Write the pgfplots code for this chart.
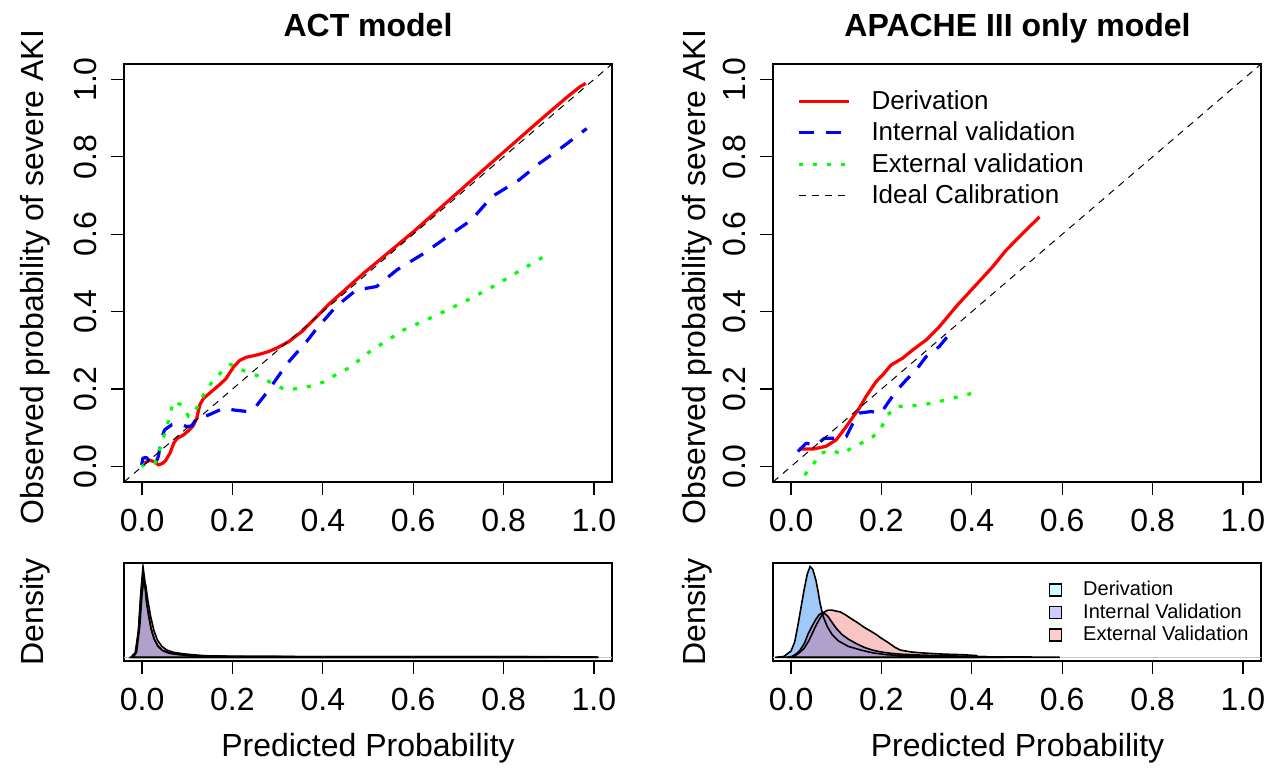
\documentclass[border=0pt]{standalone}
\usepackage{pgfplots}
\usepackage{pgfplotstable}
\pgfplotsset{compat=1.18}
\usepackage{fontspec}
\setmainfont{Liberation Sans}

\definecolor{derivfill}{RGB}{160,200,248}
\definecolor{intfill}{RGB}{176,160,204}
\definecolor{extfill}{RGB}{248,196,196}
\definecolor{derivkey}{RGB}{204,255,255}
\definecolor{intkey}{RGB}{204,204,255}
\definecolor{extkey}{RGB}{255,204,204}

\pgfplotsset{
  rbase/.style={
    scale only axis, width=244pt,
    xmin=-0.04, xmax=1.04,
    xtick={0,0.2,0.4,0.6,0.8,1},
    xticklabels={0.0,0.2,0.4,0.6,0.8,1.0},
    tick align=outside, tick pos=left,
    major tick length=6.5pt,
    tick style={black, line width=0.6pt},
    axis line style={line width=0.6pt},
    ticklabel style={font=\fontsize{16}{19}\selectfont, inner sep=0pt},
    xticklabel style={anchor=north, yshift=-6.75pt},
  },
  calib/.style={rbase, height=209pt, ymin=-0.04, ymax=1.04,
    ytick={0,0.2,0.4,0.6,0.8,1}, yticklabels={0.0,0.2,0.4,0.6,0.8,1.0},
    yticklabel style={xshift=-7pt, rotate=90, anchor=south}},
  dens/.style={rbase, height=49pt, ymin=-0.04, ymax=1.04, ytick=\empty},
  cline/.style={line width=1.6pt, line join=round, forget plot},
}

% density curves (relative height), ACT model
\pgfplotstableread{
x y
-0.025 0
-0.015 0.05
-0.008 0.30
-0.003 0.70
0.002 1.00
0.006 0.85
0.010 0.62
0.014 0.48
0.020 0.32
0.027 0.20
0.035 0.12
0.045 0.075
0.060 0.045
0.080 0.030
0.100 0.022
0.130 0.015
0.200 0.011
0.400 0.008
0.600 0.007
0.800 0.007
0.950 0.006
1.000 0.004
1.010 0
}\actder
\pgfplotstableread{
x y
-0.025 0
-0.015 0.04
-0.008 0.28
-0.003 0.65
0.002 0.93
0.006 0.80
0.010 0.60
0.015 0.45
0.020 0.31
0.027 0.20
0.035 0.13
0.045 0.08
0.060 0.05
0.080 0.035
0.100 0.025
0.130 0.015
0.200 0.010
0.400 0.008
0.600 0.007
0.800 0.007
1.000 0.004
1.010 0
}\actint
\pgfplotstableread{
x y
-0.020 0
-0.012 0.06
-0.005 0.35
0.000 0.70
0.004 0.85
0.008 0.80
0.013 0.62
0.019 0.45
0.026 0.30
0.034 0.19
0.044 0.12
0.055 0.08
0.070 0.055
0.090 0.040
0.110 0.030
0.140 0.018
0.200 0.010
0.300 0.006
0.500 0.005
0.700 0.005
0.850 0.004
0.900 0
}\actext

% density curves (relative height), APACHE III only model
\pgfplotstableread{
x y
-0.035 0
-0.016 0.01
0.000 0.07
0.008 0.17
0.015 0.35
0.022 0.55
0.029 0.75
0.036 0.92
0.042 1.00
0.048 0.97
0.055 0.85
0.060 0.72
0.064 0.60
0.071 0.45
0.080 0.34
0.091 0.25
0.105 0.18
0.127 0.12
0.155 0.08
0.180 0.05
0.210 0.03
0.240 0.02
0.300 0.012
0.380 0.008
0.465 0.005
0.550 0.003
0.590 0.002
0.595 0
}\apder
\pgfplotstableread{
x y
-0.010 0
0.002 0.01
0.012 0.04
0.020 0.08
0.030 0.16
0.037 0.25
0.046 0.34
0.055 0.42
0.062 0.47
0.069 0.49
0.075 0.48
0.082 0.45
0.090 0.39
0.100 0.32
0.113 0.25
0.127 0.20
0.145 0.15
0.162 0.11
0.180 0.08
0.198 0.06
0.220 0.045
0.242 0.035
0.287 0.025
0.340 0.018
0.403 0.010
0.461 0.003
0.470 0
}\apint
\pgfplotstableread{
x y
-0.005 0
0.006 0.01
0.018 0.05
0.029 0.10
0.040 0.19
0.055 0.35
0.065 0.44
0.073 0.50
0.082 0.52
0.091 0.52
0.100 0.51
0.109 0.50
0.120 0.47
0.135 0.42
0.148 0.38
0.162 0.33
0.176 0.29
0.189 0.25
0.200 0.21
0.216 0.16
0.230 0.11
0.242 0.08
0.265 0.06
0.287 0.05
0.320 0.04
0.340 0.035
0.376 0.03
0.410 0.02
0.415 0
}\apext

\begin{document}
\begin{tikzpicture}
\useasboundingbox (0pt,0pt) rectangle (635pt,384.5pt);

% ---- ACT model calibration
\begin{axis}[calib, at={(62pt,143.5pt)}, anchor=south west]
\addplot[cline, red] coordinates {
(0.000,0.005) (0.010,0.012) (0.017,0.016) (0.028,0.012) (0.036,0.004)
(0.045,0.008) (0.052,0.015) (0.062,0.035) (0.070,0.060) (0.077,0.072)
(0.092,0.082) (0.104,0.094) (0.113,0.105) (0.121,0.125) (0.128,0.160)
(0.136,0.176) (0.148,0.188) (0.158,0.198) (0.172,0.212) (0.185,0.226)
(0.203,0.258) (0.216,0.274) (0.230,0.282) (0.257,0.289) (0.280,0.297)
(0.300,0.307) (0.325,0.323) (0.355,0.350) (0.415,0.421) (0.490,0.499)
(0.600,0.606) (0.750,0.761) (0.880,0.894) (0.940,0.954) (0.970,0.982)
(0.982,0.990)};
\addplot[cline, blue, dash pattern=on 7.5pt off 6pt] coordinates {
(-0.001,0.004) (0.002,0.022) (0.010,0.023) (0.017,0.013) (0.028,0.002)
(0.036,0.026) (0.043,0.073) (0.050,0.095) (0.066,0.108) (0.084,0.110)
(0.099,0.103) (0.110,0.105) (0.121,0.125) (0.136,0.129) (0.147,0.133)
(0.181,0.151) (0.203,0.146) (0.233,0.142) (0.252,0.155) (0.278,0.194)
(0.293,0.219) (0.322,0.267) (0.367,0.327) (0.384,0.353) (0.429,0.413)
(0.474,0.456) (0.519,0.465) (0.564,0.508) (0.624,0.551) (0.676,0.594)
(0.729,0.637) (0.774,0.697) (0.834,0.740) (0.879,0.783) (0.931,0.826)
(0.984,0.873)};
\addplot[cline, green, dash pattern=on 2pt off 5pt] coordinates {
(-0.001,0.000) (0.010,0.009) (0.028,0.007) (0.036,0.035) (0.047,0.073)
(0.058,0.116) (0.069,0.168) (0.088,0.159) (0.103,0.129) (0.121,0.151)
(0.136,0.185) (0.155,0.219) (0.173,0.241) (0.196,0.264) (0.233,0.243)
(0.263,0.232) (0.287,0.215) (0.318,0.198) (0.348,0.202) (0.374,0.208)
(0.404,0.219) (0.430,0.238) (0.460,0.256) (0.504,0.297) (0.579,0.353)
(0.654,0.392) (0.729,0.435) (0.789,0.473) (0.826,0.499) (0.886,0.540)};
\addplot[forget plot, black, line width=0.5pt, dash pattern=on 3.5pt off 3pt]
  coordinates {(-0.04,-0.04) (1.04,1.04)};
\end{axis}

% ---- APACHE III only model calibration
\begin{axis}[calib, at={(386.5pt,143.5pt)}, anchor=south west,
  legend image code/.code={\draw[#1] (0pt,0pt) -- (25pt,0pt);},
  legend style={at={(0.049,0.94)}, anchor=north west, draw=none, fill=none,
    inner sep=0pt, row sep=3.8pt,
    font=\fontsize{13}{15}\selectfont,
    nodes={inner sep=0.5pt},
    /tikz/every odd column/.append style={column sep=10pt}},
  legend cell align=left]
\addplot[cline, red] coordinates {
(0.018,0.045) (0.048,0.045) (0.077,0.052) (0.100,0.069) (0.122,0.103)
(0.151,0.151) (0.166,0.181) (0.188,0.219) (0.203,0.237) (0.221,0.262)
(0.247,0.280) (0.269,0.301) (0.299,0.327) (0.328,0.361) (0.365,0.413)
(0.402,0.460) (0.446,0.516) (0.476,0.559) (0.520,0.611) (0.550,0.645)};
\addplot[cline, blue, dash pattern=on 7.5pt off 6pt] coordinates {
(0.015,0.039) (0.033,0.060) (0.055,0.056) (0.074,0.073) (0.100,0.073)
(0.122,0.077) (0.137,0.112) (0.151,0.138) (0.177,0.142) (0.199,0.138)
(0.214,0.164) (0.232,0.194) (0.255,0.224) (0.277,0.250) (0.299,0.284)
(0.328,0.310) (0.358,0.353)};
\addplot[cline, green, dash pattern=on 2pt off 5pt] coordinates {
(0.030,-0.022) (0.048,0.004) (0.066,0.034) (0.089,0.043) (0.111,0.032)
(0.133,0.047) (0.155,0.060) (0.181,0.077) (0.199,0.099) (0.214,0.133)
(0.232,0.155) (0.269,0.157) (0.299,0.161) (0.328,0.168) (0.373,0.181)
(0.410,0.192)};
\addplot[forget plot, black, line width=0.5pt, dash pattern=on 3.5pt off 3pt]
  coordinates {(-0.04,-0.04) (1.04,1.04)};
\addlegendimage{red, line width=1.6pt}
\addlegendentry{Derivation}
\addlegendimage{blue, line width=1.6pt, dash pattern=on 7.5pt off 6pt}
\addlegendentry{Internal validation}
\addlegendimage{green, line width=1.6pt, dash pattern=on 2pt off 5pt}
\addlegendentry{External validation}
\addlegendimage{black, line width=0.5pt, dash pattern=on 3.5pt off 3pt}
\addlegendentry{Ideal Calibration}
\end{axis}

% ---- ACT model density
\begin{axis}[dens, at={(62pt,54pt)}, anchor=south west]
\addplot[forget plot, gray!45, line width=0.8pt] coordinates {(-0.04,0) (1.04,0)};
\addplot[forget plot, draw=none, fill=extfill] table {\actext} \closedcycle;
\addplot[forget plot, draw=none, fill=derivfill] table {\actder} \closedcycle;
\addplot[forget plot, draw=none, fill=intfill] table {\actint} \closedcycle;
\addplot[forget plot, black, line width=0.8pt] table {\actext} \closedcycle;
\addplot[forget plot, black, line width=0.8pt] table {\actder} \closedcycle;
\addplot[forget plot, black, line width=0.8pt] table {\actint} \closedcycle;
\end{axis}

% ---- APACHE III density
\begin{axis}[dens, at={(386.5pt,54pt)}, anchor=south west,
  legend image code/.code={\draw[#1] (0pt,-3pt) rectangle (6pt,3pt);},
  legend style={at={(0.564,0.83)}, anchor=north west, draw=none, fill=none,
    inner sep=0pt, row sep=1.6pt,
    font=\fontsize{10}{11}\selectfont,
    nodes={inner sep=0.5pt},
    /tikz/every odd column/.append style={column sep=10pt}},
  legend cell align=left]
\addplot[forget plot, gray!45, line width=0.8pt] coordinates {(-0.04,0) (1.04,0)};
\addplot[forget plot, draw=none, fill=extfill] table {\apext} \closedcycle;
\addplot[forget plot, draw=none, fill=derivfill] table {\apder} \closedcycle;
\addplot[forget plot, draw=none, fill=intfill] table {\apint} \closedcycle;
\addplot[forget plot, black, line width=0.8pt] table {\apext} \closedcycle;
\addplot[forget plot, black, line width=0.8pt] table {\apder} \closedcycle;
\addplot[forget plot, black, line width=0.8pt] table {\apint} \closedcycle;
\addlegendimage{fill=derivkey, draw=black, line width=0.8pt}
\addlegendentry{Derivation}
\addlegendimage{fill=intkey, draw=black, line width=0.8pt}
\addlegendentry{Internal Validation}
\addlegendimage{fill=extkey, draw=black, line width=0.8pt}
\addlegendentry{External Validation}
\end{axis}

% ---- titles and axis labels
\begin{scope}[font=\fontsize{16}{19}\selectfont]
\node[anchor=base, font=\fontsize{16}{19}\selectfont\bfseries] at (184pt,366pt) {ACT model};
\node[anchor=base, font=\fontsize{16}{19}\selectfont\bfseries] at (508.75pt,366pt) {APACHE III only model};
\node[rotate=90] at (17.5pt,246pt) {Observed probability of severe AKI};
\node[rotate=90] at (348.5pt,246pt) {Observed probability of severe AKI};
\node[rotate=90] at (17.5pt,78.5pt) {Density};
\node[rotate=90] at (348.5pt,78.5pt) {Density};
\node[anchor=base] at (184pt,6pt) {Predicted Probability};
\node[anchor=base] at (508.75pt,6pt) {Predicted Probability};
\end{scope}
\end{tikzpicture}
\end{document}
